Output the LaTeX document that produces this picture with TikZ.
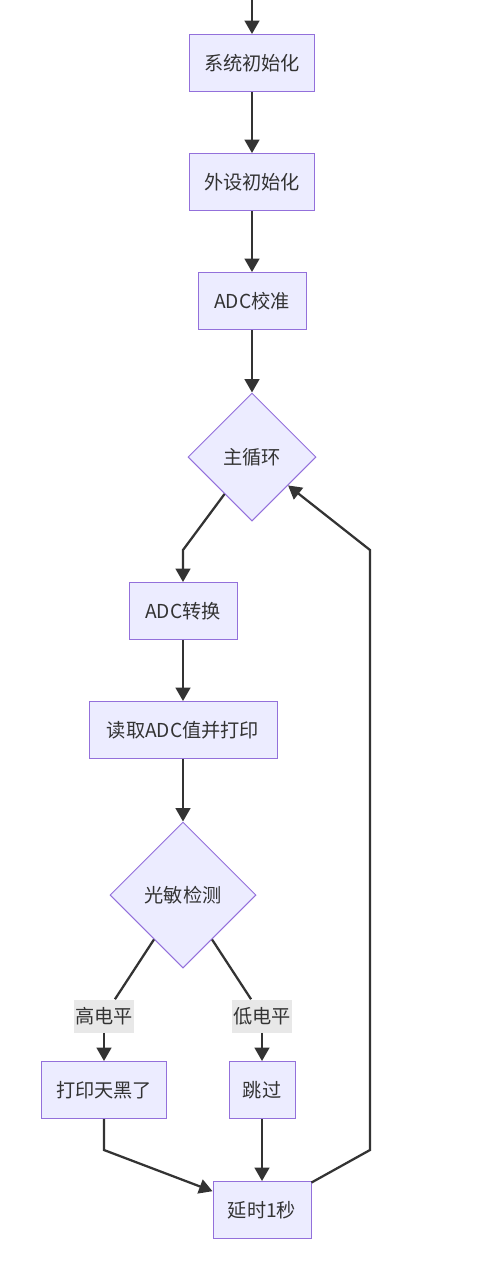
\documentclass[tikz,border=0pt]{standalone}
\usepackage{fontspec}
\setmainfont{Noto Sans CJK SC}
\usetikzlibrary{shapes.geometric,arrows.meta}
\definecolor{nodefill}{HTML}{ECECFF}
\definecolor{nodeline}{HTML}{9370DB}
\definecolor{edgec}{HTML}{333333}
\definecolor{lblfill}{HTML}{E8E8E8}

\begin{document}
\begin{tikzpicture}[x=0.75pt,y=-0.75pt,
  every node/.style={font=\fontsize{14.4pt}{17pt}\selectfont,text=edgec},
  box/.style={draw=nodeline,fill=nodefill,line width=0.75pt,minimum height=42.75pt,inner sep=0pt},
  decide/.style={diamond,aspect=1,draw=nodeline,fill=nodefill,line width=0.75pt,inner sep=0pt},
  lbl/.style={fill=lblfill,minimum width=45pt,minimum height=24.75pt,inner sep=0pt},
  flow/.style={draw=edgec,line width=1.7pt,-{Triangle[length=10pt,width=11pt]}},
  seg/.style={draw=edgec,line width=1.7pt}]
  \useasboundingbox (0,0) rectangle (500,1265);
  % setup chain
  \coordinate (start) at (252,0);
  \node[box,minimum width=93.75pt] (sys) at (252,63) {系统初始化};
  \node[box,minimum width=93.75pt] (periph) at (252,182) {外设初始化};
  \node[box,minimum width=81pt] (cal) at (252,301) {ADC校准};
  \node[decide,minimum width=96pt,minimum height=96pt] (main) at (252,457) {主循环};
  % loop body
  \node[box,minimum width=81pt] (conv) at (183,611) {ADC转换};
  \node[box,minimum width=141pt] (read) at (183,730) {读取ADC值并打印};
  \node[decide,minimum width=109.5pt,minimum height=109.5pt] (sense) at (183,895) {光敏检测};
  \node[box,minimum width=93.75pt] (dark) at (104,1090) {打印天黑了};
  \node[box,minimum width=49.5pt] (skip) at (262,1090) {跳过};
  \node[box,minimum width=73.5pt] (delay) at (262,1210) {延时1秒};
  % bends
  \coordinate (b1) at (183,550);
  \coordinate (b2) at (104,1150);
  \coordinate (b3) at (370,1150);
  \coordinate (b4) at (370,550);
  % connectors
  \draw[flow] (start) -- (sys);
  \draw[flow] (sys) -- (periph);
  \draw[flow] (periph) -- (cal);
  \draw[flow] (cal) -- (main);
  \draw[flow] (main) -- (b1) -- (conv);
  \draw[flow] (conv) -- (read);
  \draw[flow] (read) -- (sense);
  % branch labels
  \node[lbl] (hi) at (104,1016) {高电平};
  \node[lbl] (lo) at (262,1016) {低电平};
  \draw[seg] (sense) -- (hi);
  \draw[flow] (hi) -- (dark);
  \draw[seg] (sense) -- (lo);
  \draw[flow] (lo) -- (skip);
  \draw[flow] (dark) -- (b2) -- (delay);
  \draw[flow] (skip) -- (delay);
  \draw[flow] (delay) -- (b3) -- (b4) -- (main);
\end{tikzpicture}
\end{document}
